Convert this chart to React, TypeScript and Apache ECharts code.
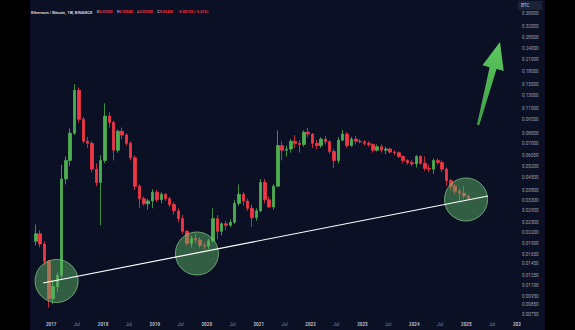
import React, { useEffect, useRef } from 'react';
import * as echarts from 'echarts';

// Monthly candles (ETH/BTC)
const months = [
  '2016-09', '2016-10', '2016-11', '2016-12',
  '2017-01', '2017-02', '2017-03', '2017-04', '2017-05', '2017-06', '2017-07', '2017-08', '2017-09', '2017-10', '2017-11', '2017-12',
  '2018-01', '2018-02', '2018-03', '2018-04', '2018-05', '2018-06', '2018-07', '2018-08', '2018-09', '2018-10', '2018-11', '2018-12',
  '2019-01', '2019-02', '2019-03', '2019-04', '2019-05', '2019-06', '2019-07', '2019-08', '2019-09', '2019-10', '2019-11', '2019-12',
  '2020-01', '2020-02', '2020-03', '2020-04', '2020-05', '2020-06', '2020-07', '2020-08', '2020-09', '2020-10', '2020-11', '2020-12',
  '2021-01', '2021-02', '2021-03', '2021-04', '2021-05', '2021-06', '2021-07', '2021-08', '2021-09', '2021-10', '2021-11', '2021-12',
  '2022-01', '2022-02', '2022-03', '2022-04', '2022-05', '2022-06', '2022-07', '2022-08', '2022-09', '2022-10', '2022-11', '2022-12',
  '2023-01', '2023-02', '2023-03', '2023-04', '2023-05', '2023-06', '2023-07', '2023-08', '2023-09', '2023-10', '2023-11', '2023-12',
  '2024-01', '2024-02', '2024-03', '2024-04', '2024-05', '2024-06', '2024-07', '2024-08', '2024-09', '2024-10', '2024-11', '2024-12',
  '2025-01',
];
const opens = [
  0.0195, 0.0215, 0.0188, 0.0150,
  0.0092, 0.0108, 0.0125, 0.0440, 0.0560, 0.0800, 0.1400, 0.0960, 0.0720, 0.0700, 0.0500, 0.0420,
  0.0560, 0.1000, 0.0920, 0.0640, 0.0820, 0.0780, 0.0700, 0.0580, 0.0400, 0.0340, 0.0318, 0.0330,
  0.0370, 0.0335, 0.0360, 0.0340, 0.0315, 0.0290, 0.0262, 0.0222, 0.0190, 0.0202, 0.0198, 0.0185,
  0.0183, 0.0196, 0.0262, 0.0222, 0.0245, 0.0240, 0.0250, 0.0320, 0.0360, 0.0330, 0.0300, 0.0265,
  0.0290, 0.0420, 0.0335, 0.0305, 0.0400, 0.0680, 0.0640, 0.0650, 0.0720, 0.0700, 0.0690, 0.0810,
  0.0790, 0.0700, 0.0680, 0.0740, 0.0715, 0.0630, 0.0560, 0.0730, 0.0790, 0.0680, 0.0740, 0.0720,
  0.0715, 0.0700, 0.0690, 0.0640, 0.0670, 0.0640, 0.0650, 0.0625, 0.0620, 0.0590, 0.0560, 0.0545,
  0.0535, 0.0590, 0.0540, 0.0505, 0.0500, 0.0560, 0.0545, 0.0500, 0.0430, 0.0400, 0.0375, 0.0365,
  0.0352,
];
const closes = [
  0.0215, 0.0188, 0.0150, 0.0092,
  0.0108, 0.0125, 0.0440, 0.0560, 0.0800, 0.1400, 0.0960, 0.0720, 0.0700, 0.0500, 0.0420, 0.0560,
  0.1000, 0.0920, 0.0640, 0.0820, 0.0780, 0.0700, 0.0580, 0.0400, 0.0340, 0.0318, 0.0330, 0.0370,
  0.0335, 0.0360, 0.0340, 0.0315, 0.0290, 0.0262, 0.0222, 0.0190, 0.0202, 0.0198, 0.0185, 0.0183,
  0.0196, 0.0262, 0.0222, 0.0245, 0.0240, 0.0250, 0.0320, 0.0360, 0.0330, 0.0300, 0.0265, 0.0290,
  0.0420, 0.0335, 0.0305, 0.0400, 0.0680, 0.0640, 0.0650, 0.0720, 0.0700, 0.0690, 0.0810, 0.0790,
  0.0700, 0.0680, 0.0740, 0.0715, 0.0630, 0.0560, 0.0730, 0.0790, 0.0680, 0.0740, 0.0720, 0.0715,
  0.0700, 0.0690, 0.0640, 0.0670, 0.0640, 0.0650, 0.0625, 0.0620, 0.0590, 0.0560, 0.0545, 0.0535,
  0.0590, 0.0540, 0.0505, 0.0500, 0.0560, 0.0545, 0.0500, 0.0430, 0.0400, 0.0375, 0.0365, 0.0352,
  0.0340,
];
const lows = [
  0.0185, 0.0180, 0.0142, 0.0082,
  0.0086, 0.0100, 0.0118, 0.0410, 0.0520, 0.0780, 0.0920, 0.0700, 0.0660, 0.0480, 0.0400, 0.0240,
  0.0540, 0.0860, 0.0560, 0.0620, 0.0740, 0.0680, 0.0560, 0.0380, 0.0300, 0.0310, 0.0295, 0.0300,
  0.0325, 0.0320, 0.0330, 0.0305, 0.0275, 0.0250, 0.0215, 0.0185, 0.0180, 0.0190, 0.0178, 0.0176,
  0.0176, 0.0192, 0.0200, 0.0210, 0.0225, 0.0235, 0.0245, 0.0310, 0.0310, 0.0290, 0.0235, 0.0255,
  0.0285, 0.0320, 0.0300, 0.0295, 0.0395, 0.0560, 0.0590, 0.0620, 0.0660, 0.0620, 0.0670, 0.0760,
  0.0660, 0.0650, 0.0660, 0.0690, 0.0610, 0.0505, 0.0540, 0.0720, 0.0660, 0.0670, 0.0690, 0.0700,
  0.0680, 0.0670, 0.0620, 0.0630, 0.0620, 0.0610, 0.0615, 0.0600, 0.0580, 0.0540, 0.0530, 0.0520,
  0.0510, 0.0530, 0.0490, 0.0480, 0.0470, 0.0530, 0.0480, 0.0400, 0.0380, 0.0360, 0.0330, 0.0340,
  0.0335,
];
const highs = [
  0.0243, 0.0225, 0.0195, 0.0153,
  0.0118, 0.0130, 0.0530, 0.0590, 0.0850, 0.1520, 0.1450, 0.0990, 0.0760, 0.0720, 0.0540, 0.0600,
  0.1180, 0.1050, 0.0940, 0.0840, 0.0860, 0.0800, 0.0720, 0.0600, 0.0410, 0.0350, 0.0340, 0.0385,
  0.0380, 0.0370, 0.0365, 0.0348, 0.0325, 0.0300, 0.0275, 0.0226, 0.0210, 0.0215, 0.0205, 0.0192,
  0.0202, 0.0300, 0.0275, 0.0250, 0.0255, 0.0260, 0.0335, 0.0410, 0.0370, 0.0340, 0.0315, 0.0300,
  0.0440, 0.0440, 0.0350, 0.0410, 0.0830, 0.0720, 0.0680, 0.0740, 0.0780, 0.0730, 0.0830, 0.0858,
  0.0800, 0.0730, 0.0760, 0.0770, 0.0730, 0.0650, 0.0760, 0.0836, 0.0810, 0.0760, 0.0770, 0.0740,
  0.0730, 0.0720, 0.0700, 0.0690, 0.0690, 0.0670, 0.0660, 0.0640, 0.0630, 0.0600, 0.0570, 0.0565,
  0.0600, 0.0600, 0.0590, 0.0530, 0.0575, 0.0575, 0.0560, 0.0510, 0.0440, 0.0410, 0.0390, 0.0400,
  0.0358,
];

// Price-scale labels
const yTickValues = [
  0.38, 0.32, 0.28, 0.24, 0.21, 0.18, 0.15, 0.13, 0.11, 0.095, 0.08, 0.07, 0.06, 0.052,
  0.045, 0.038, 0.033, 0.029, 0.025, 0.022, 0.019, 0.0165, 0.0145, 0.0125, 0.011, 0.0095, 0.0085, 0.0075,
];
// Time-scale labels (year and July of each year)
const yearTicks = [2017, 2018, 2019, 2020, 2021, 2022, 2023, 2024, 2025, 2026];

// Annotations (date, price)
const circleDates = ['2017-02-08', '2019-10-24', '2024-12-30'];
const circleValues = [0.01161, 0.01662, 0.03365];
const trendDates = ['2016-11-05', '2025-06-03'];
const trendValues = [0.01131, 0.03522];
const arrowDates = ['2025-03-25', '2025-08-26'];
const arrowValues = [0.089, 0.2629];

const NAVY = '#0b1025';
const UP = '#4caf50';
const DOWN = '#f23645';
const FONT = 'Roboto, "Noto Sans", sans-serif';

const ts = (d: string) => {
  const p = d.split('-').map(Number);
  return Date.UTC(p[0], p[1] - 1, p[2] ?? 15);
};
const lg = (v: number) => Math.log10(v);

export default function App() {
  const ref = useRef<HTMLDivElement>(null);

  useEffect(() => {
    const el = ref.current;
    if (!el) return;
    const chart = echarts.init(el, undefined, { renderer: 'svg' });

    const candles = months.map((m, i) => [ts(m), lg(opens[i]), lg(closes[i]), lg(lows[i]), lg(highs[i])]);
    const circles = circleDates.map((d, i) => [ts(d), lg(circleValues[i])]);
    const trend = trendDates.map((d, i) => [ts(d), lg(trendValues[i])]);
    const arrow = [[ts(arrowDates[0]), lg(arrowValues[0]), ts(arrowDates[1]), lg(arrowValues[1])]];

    const xCustom: number[] = [];
    yearTicks.forEach((y) => {
      xCustom.push(Date.UTC(y, 0, 1));
      if (y < 2026) xCustom.push(Date.UTC(y, 6, 1));
    });

    const n = months.length;
    const o = opens[n - 1], h = highs[n - 1], l = lows[n - 1], c = closes[n - 1];
    const prev = closes[n - 2];
    const chg = c - prev;
    const pct = (chg / prev) * 100;
    const sign = chg < 0 ? '−' : '+';
    const titleText =
      `{n|Ethereum / Bitcoin, 1W, BINANCE} {k|O}{v|${o.toFixed(5)}} {k|H}{v|${h.toFixed(5)}} ` +
      `{k|L}{v|${l.toFixed(5)}} {k|C}{v|${c.toFixed(5)}} {v|${sign}${Math.abs(chg).toFixed(5)} (${sign}${Math.abs(pct).toFixed(2)}%)}`;

    const option: any = {
      animation: false,
      backgroundColor: NAVY,
      textStyle: { fontFamily: FONT },
      title: {
        text: titleText,
        left: 1,
        top: 3,
        padding: 0,
        textStyle: {
          rich: {
            n: { color: '#d1d4dc', fontSize: 4.1, fontFamily: FONT, fontWeight: 'bold' },
            k: { color: '#b2b5be', fontSize: 3.6, fontFamily: FONT },
            v: { color: DOWN, fontSize: 3.6, fontFamily: FONT },
          },
        },
      },
      grid: { left: 0, right: 24, top: 0, bottom: 12, containLabel: false },
      xAxis: {
        type: 'value',
        min: Date.UTC(2016, 7, 5),
        max: Date.UTC(2026, 0, 21),
        axisLine: { show: false },
        axisTick: { show: false },
        splitLine: { show: false },
        axisLabel: {
          customValues: xCustom,
          margin: 4,
          formatter: (v: number) => {
            const d = new Date(v);
            return d.getUTCMonth() === 0 ? `{y|${d.getUTCFullYear()}}` : '{m|Jul}';
          },
          rich: {
            y: { color: '#b8bcc8', fontSize: 4.6, fontWeight: 'bold', fontFamily: FONT },
            m: { color: '#7d8394', fontSize: 4.6, fontFamily: FONT },
          },
        },
      },
      yAxis: {
        type: 'value',
        position: 'right',
        min: lg(0.00716),
        max: lg(0.455),
        axisLine: { show: false },
        axisTick: { show: false },
        splitLine: { show: false },
        axisLabel: {
          customValues: yTickValues.map(lg),
          margin: 1,
          color: '#9aa0b0',
          fontSize: 4.6,
          fontFamily: FONT,
          formatter: (v: number) => Math.pow(10, v).toFixed(5),
        },
      },
      graphic: [
        { type: 'rect', shape: { x: 488, y: 1, width: 24, height: 9 }, style: { fill: '#1b2236' }, z: 50 },
        {
          type: 'text', x: 491, y: 5.5, z: 51,
          style: { text: 'BTC', fill: '#c8ccd6', fontSize: 4.6, fontFamily: FONT, verticalAlign: 'middle', align: 'left' },
        },
        { type: 'rect', shape: { x: 491, y: 319, width: 24, height: 11 }, style: { fill: NAVY }, z: 100 },
      ],
      series: [
        {
          type: 'candlestick',
          data: candles,
          encode: { x: 0, y: [1, 2, 3, 4] },
          barWidth: 3,
          itemStyle: { color: UP, color0: DOWN, borderColor: UP, borderColor0: DOWN, borderWidth: 0.8 },
          z: 2,
          silent: true,
        },
        {
          type: 'scatter',
          data: circles,
          symbol: 'circle',
          symbolSize: 43,
          itemStyle: { color: 'rgba(95,180,100,0.6)', borderColor: 'rgba(140,215,140,0.85)', borderWidth: 1 },
          z: 3,
          silent: true,
        },
        {
          type: 'line',
          data: trend,
          symbol: 'none',
          lineStyle: { color: '#ffffff', width: 1.2 },
          z: 4,
          silent: true,
        },
        {
          type: 'custom',
          data: arrow,
          encode: { x: [0, 2], y: [1, 3] },
          clip: false,
          z: 5,
          silent: true,
          renderItem: (params: any, api: any) => {
            const p0 = api.coord([api.value(0), api.value(1)]);
            const p1 = api.coord([api.value(2), api.value(3)]);
            const dx = p1[0] - p0[0];
            const dy = p1[1] - p0[1];
            const len = Math.sqrt(dx * dx + dy * dy);
            const ux = dx / len, uy = dy / len;
            const nx = -uy, ny = ux;
            const headLen = 27, headHalf = 11, w0 = 1.2, w1 = 3.6;
            const neck = [p1[0] - ux * headLen, p1[1] - uy * headLen];
            const pts = [
              [p0[0] + nx * w0, p0[1] + ny * w0],
              [neck[0] + nx * w1, neck[1] + ny * w1],
              [neck[0] + nx * headHalf, neck[1] + ny * headHalf],
              [p1[0], p1[1]],
              [neck[0] - nx * headHalf, neck[1] - ny * headHalf],
              [neck[0] - nx * w1, neck[1] - ny * w1],
              [p0[0] - nx * w0, p0[1] - ny * w0],
            ];
            return {
              type: 'polygon',
              shape: { points: pts },
              style: {
                fill: new echarts.graphic.LinearGradient(0, 1, 0, 0, [
                  { offset: 0, color: '#3f9e46' },
                  { offset: 1, color: '#5cc85f' },
                ]),
              },
            };
          },
        },
      ],
    };

    chart.setOption(option);
    return () => chart.dispose();
  }, []);

  return (
    <div style={{ position: 'fixed', left: 0, top: 0, width: 575, height: 330, background: '#000', overflow: 'hidden' }}>
      <div ref={ref} style={{ position: 'absolute', left: 30, top: 0, width: 515, height: 330 }} />
    </div>
  );
}
